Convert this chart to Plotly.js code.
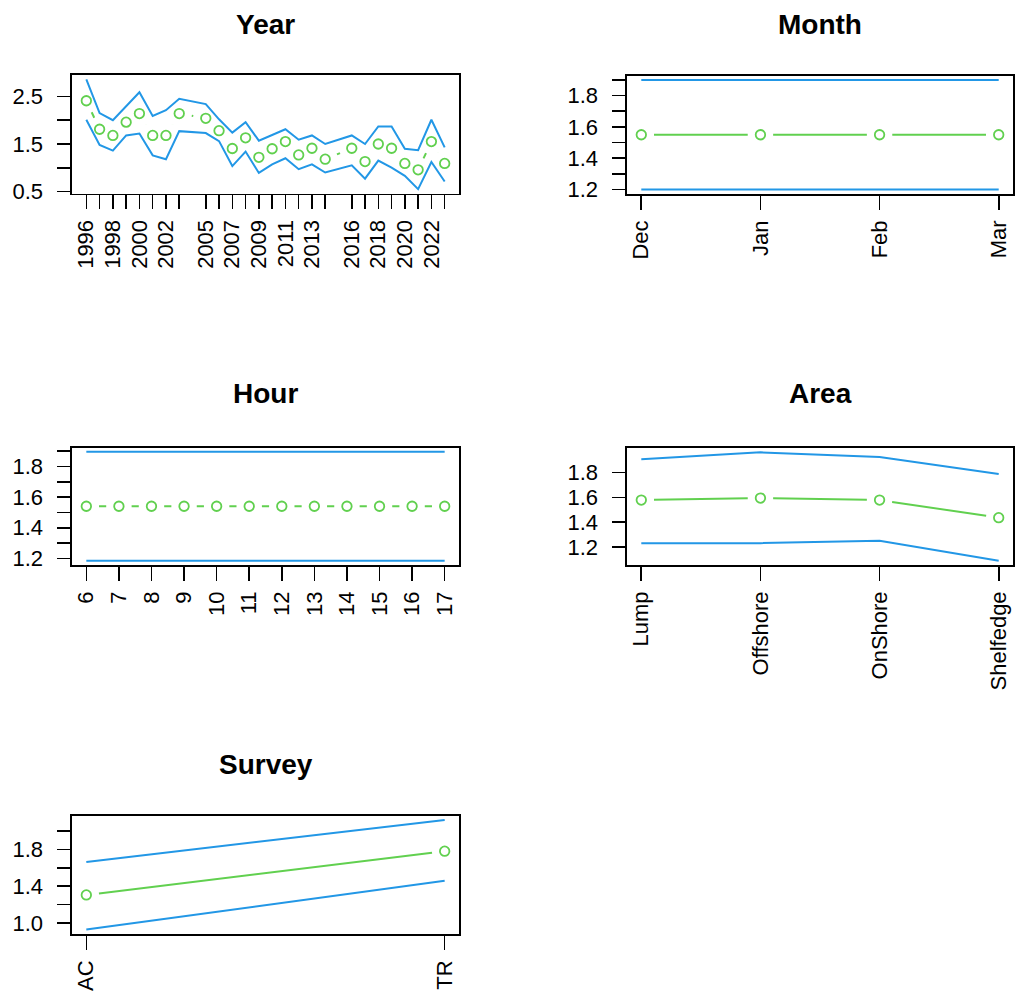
<!DOCTYPE html>
<html>
<head>
<meta charset="utf-8">
<script src="https://cdn.plot.ly/plotly-3.0.1.min.js"></script>
<style>
  html, body { margin: 0; padding: 0; background: #fff; }
  #chart { width: 1015px; height: 994px; }
</style>
</head>
<body>
<div id="chart"></div>
<script>
// ---- Year effect ----
const years = [1996, 1997, 1998, 1999, 2000, 2001, 2002, 2003, 2005, 2006, 2007, 2008, 2009,
               2010, 2011, 2012, 2013, 2014, 2016, 2017, 2018, 2019, 2020, 2021, 2022, 2023];
const yearFit   = [2.41, 1.81, 1.68, 1.96, 2.14, 1.68, 1.68, 2.14, 2.04, 1.78, 1.405, 1.63, 1.22,
                   1.40, 1.55, 1.27, 1.41, 1.18, 1.41, 1.13, 1.50, 1.41, 1.09, 0.956, 1.55, 1.09];
const yearUpper = [2.86, 2.15, 2.00, 2.29, 2.59, 2.09, 2.21, 2.45, 2.34, 2.02, 1.74, 1.96, 1.57,
                   1.69, 1.81, 1.59, 1.68, 1.50, 1.68, 1.50, 1.87, 1.87, 1.40, 1.37, 2.01, 1.43];
const yearLower = [2.01, 1.48, 1.36, 1.68, 1.72, 1.26, 1.18, 1.77, 1.73, 1.56, 1.035, 1.34, 0.89,
                   1.07, 1.20, 0.97, 1.07, 0.90, 1.05, 0.77, 1.15, 1.00, 0.83, 0.55, 1.12, 0.71];
const yearTickText = ['1996', '', '1998', '', '2000', '', '2002', '', '2005', '', '2007', '', '2009',
                      '', '2011', '', '2013', '', '2016', '', '2018', '', '2020', '', '2022', ''];
const yearYTicks = [0.5, 1.0, 1.5, 2.0, 2.5];
const yearYTickText = ['0.5', '', '1.5', '', '2.5'];

// ---- Month effect ----
const months = ['Dec', 'Jan', 'Feb', 'Mar'];
const monthFit   = [1.55, 1.55, 1.55, 1.55];
const monthUpper = [1.90, 1.90, 1.90, 1.90];
const monthLower = [1.20, 1.20, 1.20, 1.20];
const monthYTicks = [1.2, 1.3, 1.4, 1.5, 1.6, 1.7, 1.8, 1.9];
const monthYTickText = ['1.2', '', '1.4', '', '1.6', '', '1.8', ''];

// ---- Hour effect ----
const hours = [6, 7, 8, 9, 10, 11, 12, 13, 14, 15, 16, 17];
const hourFit   = [1.54, 1.54, 1.54, 1.54, 1.54, 1.54, 1.54, 1.54, 1.54, 1.54, 1.54, 1.54];
const hourUpper = [1.895, 1.895, 1.895, 1.895, 1.895, 1.895, 1.895, 1.895, 1.895, 1.895, 1.895, 1.895];
const hourLower = [1.185, 1.185, 1.185, 1.185, 1.185, 1.185, 1.185, 1.185, 1.185, 1.185, 1.185, 1.185];
const hourYTicks = [1.2, 1.3, 1.4, 1.5, 1.6, 1.7, 1.8, 1.9];
const hourYTickText = ['1.2', '', '1.4', '', '1.6', '', '1.8', ''];

// ---- Area effect ----
const areas = ['Lump', 'Offshore', 'OnShore', 'Shelfedge'];
const areaFit   = [1.579, 1.595, 1.579, 1.437];
const areaUpper = [1.907, 1.963, 1.925, 1.789];
const areaLower = [1.232, 1.232, 1.251, 1.091];
const areaYTicks = [1.2, 1.4, 1.6, 1.8];
const areaYTickText = ['1.2', '1.4', '1.6', '1.8'];

// ---- Survey effect ----
const surveys = ['AC', 'TR'];
const surveyFit   = [1.304, 1.780];
const surveyUpper = [1.663, 2.121];
const surveyLower = [0.927, 1.458];
const surveyYTicks = [1.0, 1.2, 1.4, 1.6, 1.8, 2.0];
const surveyYTickText = ['1.0', '', '1.4', '', '1.8', ''];

// ---- page geometry (pixels) ----
const W = 1015, H = 994;
const FONT = '"Liberation Sans", Arial, Helvetica, sans-serif';
const BLUE = '#2297E6', GREEN = '#61D04F';
const GAP = 12.7;   // space left around each point on the connecting line (px)

// range padded by 4% on both sides
function padRange(arrays) {
  let lo = Infinity, hi = -Infinity;
  arrays.forEach(a => a.forEach(v => { lo = Math.min(lo, v); hi = Math.max(hi, v); }));
  const p = 0.04 * (hi - lo);
  return [lo - p, hi + p];
}

// connecting line broken around each point, gap measured in screen pixels
function gappedLine(xs, ys, xr, yr, box) {
  const sx = (box.R - box.L) / (xr[1] - xr[0]);
  const sy = (box.B - box.T) / (yr[1] - yr[0]);
  const X = [], Y = [];
  for (let i = 0; i < xs.length - 1; i++) {
    const dx = xs[i + 1] - xs[i], dy = ys[i + 1] - ys[i];
    const d = Math.hypot(dx * sx, dy * sy);
    if (d > 2 * GAP) {
      const f = GAP / d;
      X.push(xs[i] + f * dx, xs[i + 1] - f * dx, null);
      Y.push(ys[i] + f * dy, ys[i + 1] - f * dy, null);
    }
  }
  return { X, Y };
}

const panels = [
  { name: 'Year', x: years, xt: years.map((y, i) => yearTickText[i]),
    fit: yearFit, up: yearUpper, lo: yearLower, yt: yearYTicks, ytt: yearYTickText,
    box: { L: 72, R: 459, T: 75, B: 193.5 }, titleY: 24 },
  { name: 'Month', x: months.map((m, i) => i + 1), xt: months,
    fit: monthFit, up: monthUpper, lo: monthLower, yt: monthYTicks, ytt: monthYTickText,
    box: { L: 627, R: 1013, T: 75.5, B: 194 }, titleY: 24 },
  { name: 'Hour', x: hours, xt: hours.map(String),
    fit: hourFit, up: hourUpper, lo: hourLower, yt: hourYTicks, ytt: hourYTickText,
    box: { L: 72, R: 459, T: 447.5, B: 565 }, titleY: 393 },
  { name: 'Area', x: areas.map((a, i) => i + 1), xt: areas,
    fit: areaFit, up: areaUpper, lo: areaLower, yt: areaYTicks, ytt: areaYTickText,
    box: { L: 627, R: 1013, T: 448, B: 565 }, titleY: 393 },
  { name: 'Survey', x: surveys.map((s, i) => i + 1), xt: surveys,
    fit: surveyFit, up: surveyUpper, lo: surveyLower, yt: surveyYTicks, ytt: surveyYTickText,
    box: { L: 72, R: 459, T: 815.5, B: 934 }, titleY: 764 }
];

const traces = [];
const layout = {
  width: W, height: H,
  margin: { l: 0, r: 0, t: 0, b: 0 },
  paper_bgcolor: '#fff', plot_bgcolor: '#fff',
  showlegend: false,
  hovermode: false,
  font: { family: FONT, color: '#000' },
  annotations: []
};

panels.forEach((p, k) => {
  const n = k + 1;
  const xa = n === 1 ? 'x' : 'x' + n, ya = n === 1 ? 'y' : 'y' + n;
  const xr = padRange([p.x]);
  const yr = padRange([p.fit, p.up, p.lo]);

  traces.push({ type: 'scatter', mode: 'lines', x: p.x, y: p.lo, xaxis: xa, yaxis: ya,
                line: { color: BLUE, width: 2 } });
  traces.push({ type: 'scatter', mode: 'lines', x: p.x, y: p.up, xaxis: xa, yaxis: ya,
                line: { color: BLUE, width: 2 } });
  const seg = gappedLine(p.x, p.fit, xr, yr, p.box);
  traces.push({ type: 'scatter', mode: 'lines', x: seg.X, y: seg.Y, xaxis: xa, yaxis: ya,
                connectgaps: false, line: { color: GREEN, width: 2 } });
  traces.push({ type: 'scatter', mode: 'markers', x: p.x, y: p.fit, xaxis: xa, yaxis: ya,
                marker: { symbol: 'circle-open', size: 9.5, color: GREEN, line: { width: 1.8, color: GREEN } } });

  const axKey = n === 1 ? '' : String(n);
  layout['xaxis' + axKey] = {
    domain: [p.box.L / W, p.box.R / W], range: xr, anchor: ya,
    showgrid: false, zeroline: false,
    showline: true, mirror: true, linecolor: '#000', linewidth: 1.6,
    ticks: 'outside', ticklen: 14, tickwidth: 1.6, tickcolor: '#000',
    tickmode: 'array', tickvals: p.x, ticktext: p.xt, tickangle: -90,
    ticklabelstandoff: 2,
    tickfont: { family: FONT, size: 22, color: '#000' }
  };
  layout['yaxis' + axKey] = {
    domain: [1 - p.box.B / H, 1 - p.box.T / H], range: yr, anchor: xa,
    showgrid: false, zeroline: false,
    showline: true, mirror: true, linecolor: '#000', linewidth: 1.6,
    ticks: 'outside', ticklen: 13, tickwidth: 1.6, tickcolor: '#000',
    tickmode: 'array', tickvals: p.yt, ticktext: p.ytt,
    ticklabelstandoff: 10,
    tickfont: { family: FONT, size: 22, color: '#000' }
  };
  layout.annotations.push({
    xref: 'paper', yref: 'paper', showarrow: false,
    x: (p.box.L + p.box.R) / 2 / W, y: 1 - p.titleY / H,
    xanchor: 'center', yanchor: 'middle',
    text: '<b>' + p.name + '</b>',
    font: { family: FONT, size: 28, color: '#000' }
  });
});

Plotly.newPlot('chart', traces, layout, { displayModeBar: false, staticPlot: true });
</script>
</body>
</html>
